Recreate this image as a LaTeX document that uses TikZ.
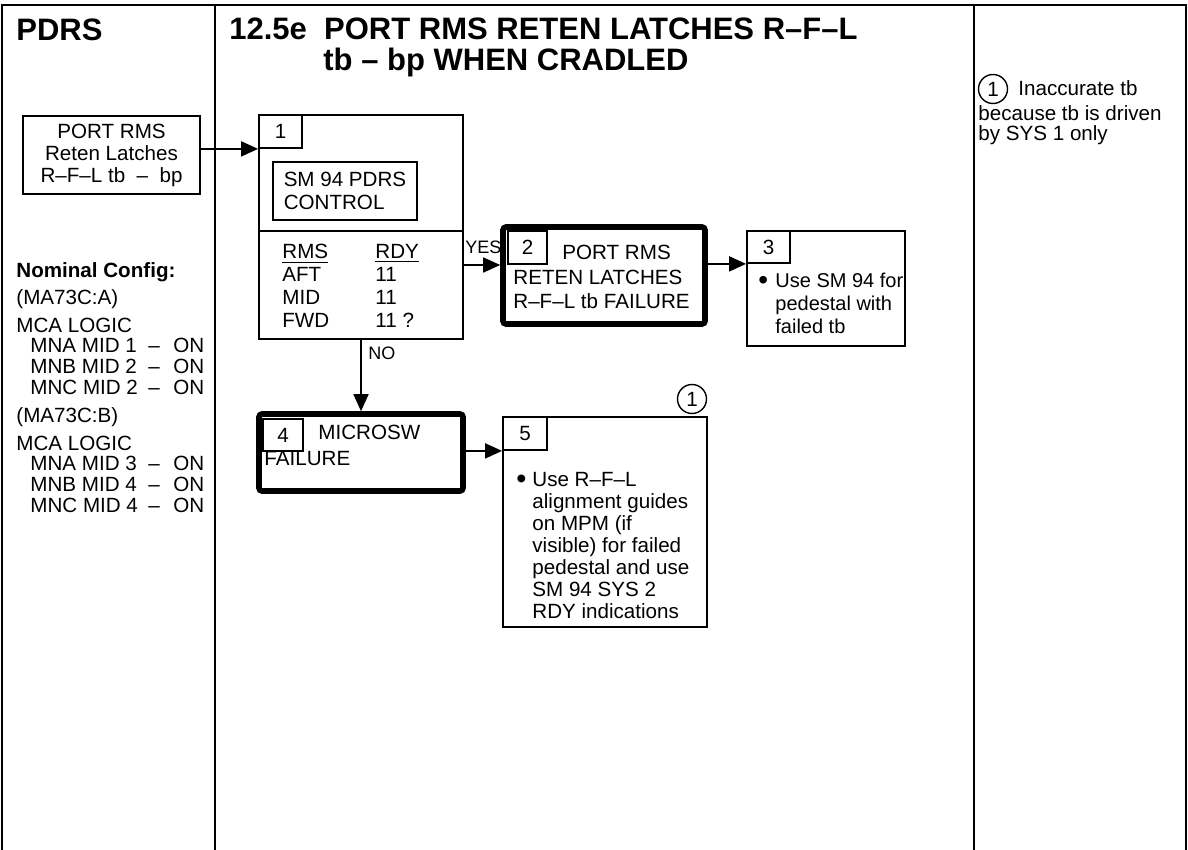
\documentclass[tikz,border=0pt]{standalone}
\usepackage{fontspec}
\setmainfont{Liberation Sans}
\usepackage{tikz}
\usetikzlibrary{arrows.meta,positioning,calc}
\definecolor{cInk}{HTML}{000000}
\newcommand{\boxfont}{\fontsize{10.3}{11}\selectfont}
\newcommand{\ttlfont}{\fontsize{15.5}{18}\selectfont\bfseries}
\newcommand{\bigbul}{\raisebox{-0.12em}{\scalebox{1.4}{\textbullet}}}
\tikzset{
  frm/.style={draw=cInk, line width=1pt},
  blk/.style={draw=cInk, line width=0.9pt, inner sep=0pt, font=\boxfont},
  failblk/.style={draw=cInk, line width=2.8pt, rounded corners=1.5pt, inner sep=0pt},
  tabno/.style={draw=cInk, line width=0.9pt, inner sep=0pt, anchor=north west, font=\boxfont},
  txt/.style={inner sep=0pt, font=\boxfont, anchor=base west},
  ttl/.style={inner sep=0pt, font=\ttlfont, anchor=base west},
  yesno/.style={inner sep=0pt, font=\fontsize{9}{10}\selectfont, anchor=base west},
  refno/.style={circle, draw=cInk, line width=0.7pt, inner sep=0pt, minimum size=14.5pt, font=\boxfont},
  arr/.style={-{Triangle[length=8.5pt, width=7.5pt]}, line width=0.9pt, draw=cInk},
  sep/.style={line width=0.9pt, draw=cInk}
}

\begin{document}
\begin{tikzpicture}[x=0.5pt, y=-0.5pt]
\useasboundingbox (0,0) rectangle (1188,850);
% page frame, three columns
\draw[frm] (2,850) -- (2,5) -- (1186,5) -- (1186,850);
\draw[frm] (215,5) -- (215,850);
\draw[frm] (974,5) -- (974,850);
% titles
\node[ttl] (pdrs) at (16,41) {PDRS};
\node[ttl] (ttl1) at (229,40) {12.5e\ \ PORT RMS RETEN LATCHES R–F–L};
\node[ttl] (ttl2) at (323,71) {tb – bp WHEN CRADLED};
% entry box
\node[blk, minimum width=88.5pt, minimum height=39pt, align=center] (inp) at (111.5,155)
  {PORT RMS\\Reten Latches\\R–F–L tb\ \ –\ \ bp};
% nominal config
\node[txt, font=\boxfont\bfseries] (nom) at (16,278) {Nominal Config:};
\foreach \hd/\yy [count=\i] in {{(MA73C:A)}/304, {MCA LOGIC}/332, {(MA73C:B)}/422, {MCA LOGIC}/450}
  \node[txt] (hd\i) at (16,\yy) {\hd};
\foreach \nm/\yy [count=\i] in {MNA MID 1/352, MNB MID 2/373, MNC MID 2/394,
                                MNA MID 3/470, MNB MID 4/491, MNC MID 4/512} {
  \node[txt] (mca\i) at (30,\yy) {\nm};
  \node[txt] (on\i) at (148,\yy) {–\hspace{6.8pt}ON};
}
% block 1
\node[blk, minimum width=102pt, minimum height=112pt] (b1) at (361,227) {};
\node[tabno, minimum width=21.5pt, minimum height=16.5pt] (t1) at (b1.north west) {1};
\node[blk, minimum width=72pt, minimum height=29pt, align=left,
      font=\fontsize{10.3}{11.5}\selectfont] (ctl) at (345,191) {SM 94 PDRS\\CONTROL};
\coordinate (sepy) at (0,231);
\draw[sep] (b1.west |- sepy) -- (b1.east |- sepy);
\node[txt] (rdy) at (282,259) {\fontsize{10.3}{11.5}\selectfont
  \begin{tabular}[t]{@{}p{46.5pt}@{}l@{}}
    \underline{RMS} & \underline{RDY}\\
    AFT & 11\\
    MID & 11\\
    FWD & 11 ?
  \end{tabular}};
% block 2
\node[failblk, minimum width=101pt, minimum height=48.5pt] (b2) at (604,275.5) {};
\node[tabno, minimum width=19.5pt, minimum height=16.5pt] (t2) at ([shift={(7,6)}]b2.north west) {2};
\node[txt] (b2txt) at (513,260) {\fontsize{10.3}{12.2}\selectfont
  \begin{tabular}[t]{@{}l@{}}
    \hspace*{24.5pt}PORT RMS\\
    RETEN LATCHES\\
    R–F–L tb FAILURE
  \end{tabular}};
% block 3
\node[blk, minimum width=79pt, minimum height=57.5pt] (b3) at (826,288.5) {};
\node[tabno, minimum width=21.5pt, minimum height=16pt] (t3) at (b3.north west) {3};
\node[txt] (b3txt) at (758,287) {\fontsize{10}{11.5}\selectfont
  \begin{tabular}[t]{@{}p{8.5pt}@{}l@{}}
    \bigbul & Use SM 94 for\\
    & pedestal with\\
    & failed tb
  \end{tabular}};
% block 4
\node[failblk, minimum width=102pt, minimum height=38.5pt] (b4) at (361,452.5) {};
\node[tabno, minimum width=20pt, minimum height=16pt] (t4) at ([shift={(6,7)}]b4.north west) {4};
\node[txt] (mic) at (318,439) {MICROSW};
\node[txt] (fail) at (264,465) {FAILURE};
% block 5
\node[blk, minimum width=102pt, minimum height=105pt] (b5) at (605,522) {};
\node[tabno, minimum width=22pt, minimum height=16.5pt] (t5) at (b5.north west) {5};
\node[txt] (b5txt) at (516,486) {
  \begin{tabular}[t]{@{}p{8pt}@{}l@{}}
    \bigbul & Use R–F–L\\
    & alignment guides\\
    & on MPM (if\\
    & visible) for failed\\
    & pedestal and use\\
    & SM 94 SYS 2\\
    & RDY indications
  \end{tabular}};
\node[refno] (c1) at (692,399) {1};
% connectors
\draw[arr] (inp.east |- t1.south west) -- (t1.south west);
\draw[arr] (b1.east |- t2.south west) -- (b2.west |- t2.south west);
\node[yesno] (yes) at (465,254) {YES};
\draw[arr] (b2.east |- t3.south west) -- (t3.south west);
\draw[arr] (b1.south) -- (b4.north);
\node[yesno] (no) at (368,359) {NO};
\draw[arr] (b4.east |- t5.south west) -- (t5.south west);
% note column
\node[refno] (n1) at (993,89) {1};
\node[txt] (note1) at (1018,96) {Inaccurate tb};
\node[txt] (note2) at (978,121) {because tb is driven};
\node[txt] (note3) at (978,141) {by SYS 1 only};
\end{tikzpicture}
\end{document}
